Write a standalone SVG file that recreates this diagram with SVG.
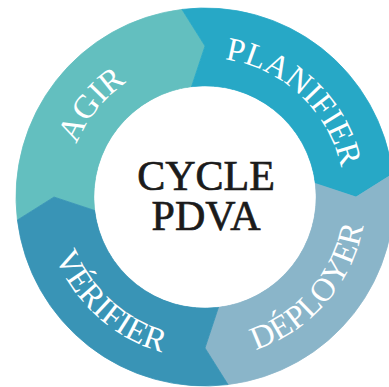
<svg xmlns="http://www.w3.org/2000/svg" xmlns:xlink="http://www.w3.org/1999/xlink" width="389" height="387" viewBox="0 0 389 387">
  <style>
    .seg { stroke-width: 0.8; stroke-linejoin: round; }
    .ring-label { font-family: "Liberation Serif", "Times New Roman", serif; font-size: 33px; fill: #ffffff; }
    .hub-label { font-family: "Liberation Serif", "Times New Roman", serif; font-size: 42px; fill: #1b1b1b; stroke: #1b1b1b; stroke-width: 0.7; text-anchor: middle; }
  </style>
  <defs>
    <!-- baselines for the ring labels: clockwise on the upper half, counter-clockwise on the lower half -->
    <path id="arc-agir" d="M 75.23,246.81 A 139 139 0 0 1 226.74,59.71"/>
    <path id="arc-planifier" d="M 164.36,64.07 A 139 139 0 0 1 340.44,228.27"/>
    <path id="arc-deployer" d="M 174.28,355.04 A 161 161 0 0 0 357.23,144.58"/>
    <path id="arc-verifier" d="M 47.52,163.53 A 161 161 0 0 0 254.75,350.12"/>
  </defs>

  <rect width="389" height="387" fill="#ffffff"/>

  <g id="agir">
    <path class="seg" fill="#63bfbf" stroke="#63bfbf" d="M 17.41,220.03 A 189 189 0 0 1 181.97,9.41 L 205,46 L 191.47,86.83 A 111 111 0 0 0 94.83,210.53 L 54,197 Z"/>
    <text class="ring-label"><textPath xlink:href="#arc-agir" href="#arc-agir" startOffset="50%" text-anchor="middle">AGIR</textPath></text>
  </g>

  <g id="planifier">
    <path class="seg" fill="#27a8c6" stroke="#27a8c6" d="M 181.97,9.41 A 189 189 0 0 1 392.59,173.97 L 356,197 L 315.17,183.47 A 111 111 0 0 0 191.47,86.83 L 205,46 Z"/>
    <text class="ring-label"><textPath xlink:href="#arc-planifier" href="#arc-planifier" startOffset="50%" text-anchor="middle">PLANIFIER</textPath></text>
  </g>

  <g id="deployer">
    <path class="seg" fill="#8ab5c9" stroke="#8ab5c9" d="M 392.59,173.97 A 189 189 0 0 1 228.03,384.59 L 205,348 L 218.53,307.17 A 111 111 0 0 0 315.17,183.47 L 356,197 Z"/>
    <text class="ring-label"><textPath xlink:href="#arc-deployer" href="#arc-deployer" startOffset="50%" text-anchor="middle">DÉPLOYER</textPath></text>
  </g>

  <g id="verifier">
    <path class="seg" fill="#3994b6" stroke="#3994b6" d="M 228.03,384.59 A 189 189 0 0 1 17.41,220.03 L 54,197 L 94.83,210.53 A 111 111 0 0 0 218.53,307.17 L 205,348 Z"/>
    <text class="ring-label"><textPath xlink:href="#arc-verifier" href="#arc-verifier" startOffset="50%" text-anchor="middle">VÉRIFIER</textPath></text>
  </g>

  <g id="hub">
    <circle cx="205" cy="197" r="110.6" fill="#ffffff"/>
    <text class="hub-label"><tspan x="206" y="190">CYCLE</tspan><tspan x="206" y="230">PDVA</tspan></text>
  </g>

  <g id="connectors"/>
</svg>
